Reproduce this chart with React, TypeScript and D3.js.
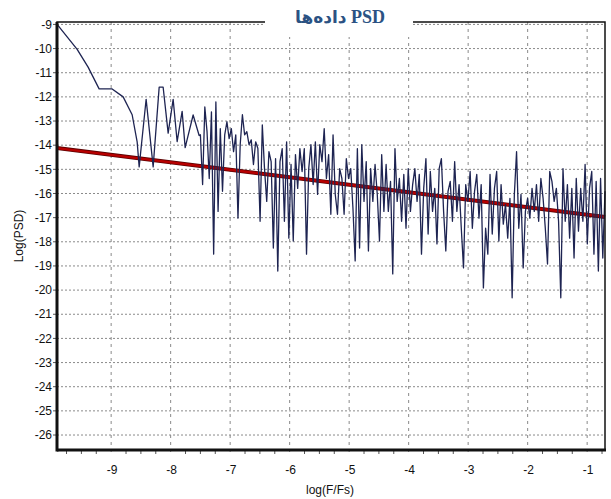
import * as d3 from "d3";

const WIDTH = 611;
const HEIGHT = 499;
const MARGIN = { top: 22, right: 6, bottom: 49, left: 57 };

const X_DOMAIN = [-9.91, -0.7];
const Y_DOMAIN = [-26.62, -8.9];
const X_TICKS = [-9, -8, -7, -6, -5, -4, -3, -2, -1];
const Y_TICKS = d3.range(-9, -27, -1);

const TITLE_FA = "داده‌ها";
const TITLE_EN = "PSD";
const X_LABEL = "log(F/Fs)";
const Y_LABEL = "Log(PSD)";

// smooth low-frequency start of the spectrum
const HEAD_X = [
  -9.908, -9.571, -9.387, -9.202, -8.983, -8.798, -8.647, -8.563, -8.529,
  -8.412, -8.294, -8.193, -8.126, -8.042, -7.958, -7.891, -7.807, -7.756,
  -7.622, -7.521,
];
const HEAD_Y = [
  -9.0, -10.03, -10.77, -11.67, -11.67, -12.0, -12.74, -13.86, -14.9, -12.1,
  -14.9, -11.6, -11.6, -13.5, -12.1, -13.85, -12.6, -14.1, -12.75, -13.6,
];

// noisy part, evenly sampled from NOISE_START to NOISE_END
const NOISE_START = -7.5;
const NOISE_END = -0.7;
const NOISE_Y = [
  -13.57, -15.63, -12.42, -13.44, -15.38, -12.62, -18.51, -12.21, -16.74, -13.32,
  -15.91, -13.57, -13.03, -13.73, -13.32, -14.27, -13.57, -17.02, -13.98, -12.74,
  -13.57, -13.44, -13.98, -13.78, -14.8, -13.86, -14.14, -17.15, -13.16, -14.97,
  -16.33, -14.27, -14.68, -18.26, -14.56, -19.21, -14.68, -14.14, -17.15, -13.86,
  -17.85, -14.8, -17.97, -14.39,
  -15.79, -14.14, -15.09, -14.14, -18.51, -14.97, -13.98, -15.63, -13.86, -16.04,
  -13.98, -14.68, -13.32, -15.38, -14.39, -16.86, -13.57, -16.04, -16.86, -14.97,
  -15.38, -16.86, -14.56, -15.38, -14.97, -16.61, -18.79, -14.14, -18.26, -13.98,
  -16.33, -14.68, -18.38, -14.97, -16.33, -14.8, -16.04, -17.97, -14.39, -16.74,
  -14.8, -16.74, -15.5, -19.33, -14.14, -16.33, -15.38, -17.15,
  -15.21, -17.44, -14.97, -16.74, -15.63, -14.97, -16.33, -15.21, -18.51, -15.79,
  -14.56, -17.68, -15.09, -16.74, -15.79, -18.09, -14.97, -14.56, -16.74, -18.38,
  -15.91, -15.5, -17.15, -14.68, -16.74, -15.63, -17.44, -19.08, -15.63, -16.33,
  -15.09, -17.44, -15.91, -15.21, -17.02, -15.63, -19.91, -17.44, -18.51, -15.21,
  -17.68, -15.79, -15.09, -17.97, -15.63,
  -17.27, -16.45, -17.85, -16.2, -20.32, -16.04, -14.27, -17.44, -16.04, -19.08,
  -16.74, -16.2, -17.02, -15.79, -16.74, -15.63, -17.15, -15.38, -16.2, -17.44,
  -18.92, -15.09, -15.5, -16.33, -15.79, -17.15, -20.32, -14.97, -17.15, -15.63,
  -17.85, -15.79, -18.67, -15.38, -17.56, -15.79, -17.15, -14.8, -18.09, -15.79,
  -15.09, -18.51, -15.5, -19.21, -15.38, -18.67, -15.91,
];

// fitted trend line
const FIT_X = [-9.91, -0.7];
const FIT_Y = [-14.12, -16.97];

const AXIS_FONT = "'Liberation Sans Narrow', 'Liberation Sans', Arial, sans-serif";

export default function App() {
  const innerW = WIDTH - MARGIN.left - MARGIN.right;
  const innerH = HEIGHT - MARGIN.top - MARGIN.bottom;

  const x = d3.scaleLinear().domain(X_DOMAIN).range([MARGIN.left, MARGIN.left + innerW]);
  const y = d3.scaleLinear().domain(Y_DOMAIN).range([MARGIN.top + innerH, MARGIN.top]);

  const step = (NOISE_END - NOISE_START) / (NOISE_Y.length - 1);
  const points: [number, number][] = [
    ...HEAD_X.map((v, i) => [v, HEAD_Y[i]] as [number, number]),
    ...NOISE_Y.map((v, i) => [NOISE_START + i * step, v] as [number, number]),
  ];

  const line = d3
    .line<[number, number]>()
    .x((d) => x(d[0]))
    .y((d) => y(d[1]));

  const fit: [number, number][] = FIT_X.map((v, i) => [v, FIT_Y[i]]);

  const minorTicks = d3.range(-9.75, -0.7, 0.25).filter((t) => Math.abs(t - Math.round(t)) > 0.01);

  const left = MARGIN.left;
  const right = MARGIN.left + innerW;
  const top = MARGIN.top;
  const bottom = MARGIN.top + innerH;

  return (
    <div>
      <svg
        width={WIDTH}
        height={HEIGHT}
        style={{ position: "absolute", left: 0, top: 0, background: "#fff" }}
      >
        {/* grid */}
        {Y_TICKS.map((t) => (
          <line
            key={`gy${t}`}
            x1={left}
            x2={right}
            y1={y(t)}
            y2={y(t)}
            stroke="#8a8a8a"
            strokeWidth={1}
            strokeDasharray="2,2"
          />
        ))}
        {X_TICKS.map((t) => (
          <line
            key={`gx${t}`}
            x1={x(t)}
            x2={x(t)}
            y1={top}
            y2={bottom + 6}
            stroke="#8a8a8a"
            strokeWidth={1}
            strokeDasharray="3,4"
          />
        ))}

        {/* minor ticks */}
        {minorTicks.map((t) => (
          <line
            key={`mt${t}`}
            x1={x(t)}
            x2={x(t)}
            y1={bottom}
            y2={bottom + 4}
            stroke="#555"
            strokeWidth={1}
          />
        ))}
        {Y_TICKS.map((t) => (
          <line
            key={`ty${t}`}
            x1={left - 4}
            x2={left}
            y1={y(t)}
            y2={y(t)}
            stroke="#555"
            strokeWidth={1}
          />
        ))}

        {/* fit line */}
        <path d={line(fit) ?? ""} fill="none" stroke="#5a0000" strokeWidth={4} />
        <path d={line(fit) ?? ""} fill="none" stroke="#b80000" strokeWidth={2.4} />

        {/* spectrum */}
        <path
          d={line(points) ?? ""}
          fill="none"
          stroke="#1e2452"
          strokeWidth={1.3}
          strokeLinejoin="round"
        />

        {/* frame */}
        <rect
          x={left}
          y={top}
          width={innerW}
          height={innerH}
          fill="none"
          stroke="#111"
          strokeWidth={1.5}
        />
        <line x1={left} x2={left} y1={top} y2={bottom + 1.5} stroke="#111" strokeWidth={3} />
        <line x1={left} x2={right + 1} y1={bottom} y2={bottom} stroke="#111" strokeWidth={3} />

        {/* tick labels */}
        {Y_TICKS.map((t) => (
          <text
            key={`ly${t}`}
            x={left - 5}
            y={y(t)}
            dy="0.35em"
            textAnchor="end"
            fontFamily={AXIS_FONT}
            fontSize={12}
            fill="#111"
          >
            {t}
          </text>
        ))}
        {X_TICKS.map((t) => (
          <text
            key={`lx${t}`}
            x={x(t) + 1}
            y={bottom + 24}
            textAnchor="middle"
            fontFamily={AXIS_FONT}
            fontSize={12}
            fill="#111"
          >
            {t}
          </text>
        ))}

        {/* axis titles */}
        <text
          x={330}
          y={494}
          textAnchor="middle"
          fontFamily={AXIS_FONT}
          fontSize={12}
          fill="#111"
        >
          {X_LABEL}
        </text>
        <text
          transform="translate(23,236) rotate(-90)"
          textAnchor="middle"
          fontFamily={AXIS_FONT}
          fontSize={12}
          fill="#111"
        >
          {Y_LABEL}
        </text>

        {/* title box */}
        <rect x={265} y={0} width={148} height={37} fill="#fff" />
        <text
          x={340}
          y={23}
          textAnchor="middle"
          fontWeight="bold"
          fill="#2b5283"
        >
          <tspan fontFamily="'DejaVu Sans', sans-serif" fontSize={17}>
            {TITLE_FA}
          </tspan>
          <tspan fontFamily="'Liberation Serif', serif" fontSize={18}>
            {" " + TITLE_EN}
          </tspan>
        </text>
      </svg>
    </div>
  );
}
